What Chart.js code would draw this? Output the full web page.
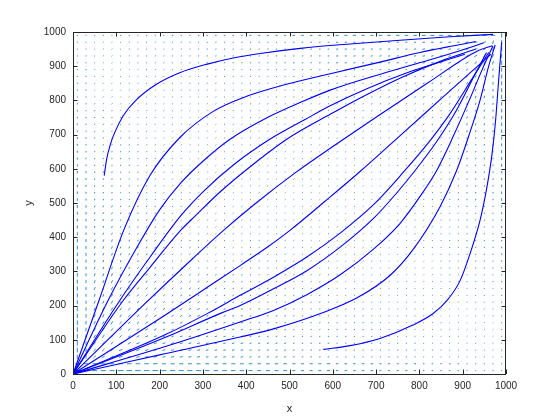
<!DOCTYPE html>
<html lang="en">
<head>
<meta charset="UTF-8">
<title>Streamlines</title>
<script src="https://cdn.jsdelivr.net/npm/chart.js"></script>
<style>
  body { margin: 0; background: #fff; }
  #chart { display: block; }
</style>
</head>
<body>
<canvas id="chart" width="560" height="420"></canvas>
<script>
// axis ticks
const xTicks = [0, 100, 200, 300, 400, 500, 600, 700, 800, 900, 1000];
const yTicks = [0, 100, 200, 300, 400, 500, 600, 700, 800, 900, 1000];

// streamlines, each listed from its lower-left end to its upper-right end
const lineA  = [[72,580],[78,630],[86,670],[96,705],[116,755],[145,800],[190,845],[245,880],[310,906],[370,924],[432,937],[525,952],[640,965],[755,976],[870,986],[970,993]];
const lineL1 = [[0,0],[60,215],[117,420],[178,581],[248,693],[324,768],[401,812],[478,842],[594,878],[709,912],[801,940],[880,960],[930,972]];
const lineL2 = [[0,0],[81,215],[152,380],[200,480],[250,560],[300,622],[361,685],[449,750],[527,795],[594,830],[700,873],[800,910],[880,940],[948,968]];
const lineL3 = [[0,0],[108,215],[178,342],[249,463],[302,535],[371,612],[459,690],[537,745],[595,785],[680,835],[770,880],[850,913],[905,935]];
const lineL4 = [[0,0],[116,215],[178,312],[248,419],[283,463],[342,535],[415,612],[498,690],[595,760],[680,818],[760,868],[860,920],[930,950]];
const lineL5 = [[0,0],[174,215],[260,318],[347,419],[420,497],[513,588],[600,665],[705,755],[818,850],[935,945],[968,960]];
const lineR5 = [[0,0],[215,174],[318,260],[386,317],[450,372],[501,420],[580,503],[663,592],[760,702],[860,816],[965,935]];
const lineR4 = [[0,0],[215,116],[312,178],[386,230],[463,283],[540,342],[617,412],[694,495],[763,590],[820,675],[870,760],[920,860],[960,940]];
const lineR3 = [[0,0],[215,108],[342,178],[386,200],[463,249],[540,302],[617,371],[694,455],[748,530],[790,595],[840,680],[885,770],[930,880],[955,940]];
const lineR2 = [[0,0],[215,81],[386,152],[463,186],[540,232],[617,290],[694,365],[755,440],[802,520],[840,595],[880,700],[915,800],[945,890],[970,960]];
const lineR1 = [[0,0],[100,28],[200,56],[386,108],[463,132],[578,180],[655,222],[732,288],[786,365],[848,490],[886,595],[915,700],[940,800],[960,900],[975,962]];
const lineB  = [[578,72],[640,83],[709,104],[785,143],[831,176],[864,215],[894,273],[917,352],[940,449],[956,547],[968,646],[976,742],[983,859],[990,970]];
const streamlines = [lineA, lineL1, lineL2, lineL3, lineL4, lineL5, lineR5, lineR4, lineR3, lineR2, lineR1, lineB];

// quiver grid
const quiverX = [10,30,50,70,90,110,130,150,170,190,210,230,250,270,290,310,330,350,370,390,410,430,450,470,490,510,530,550,570,590,610,630,650,670,690,710,730,750,770,790,810,830,850,870,890,910,930,950,970,990];
const quiverY = [10,30,50,70,90,110,130,150,170,190,210,230,250,270,290,310,330,350,370,390,410,430,450,470,490,510,530,550,570,590,610,630,650,670,690,710,730,750,770,790,810,830,850,870,890,910,930,950,970,990];

// arrow length (px) per 100x100 cell, rows from bottom to top
const cellLen = [
  [3.5, 3.5, 3, 2.5, 2, 1.5, 1.2, 1.2, 1, 1],
  [3.5, 3, 2.5, 2, 1.5, 1.2, 1.2, 1, 1, 1],
  [3, 2.5, 2, 1.5, 1.2, 1.2, 1, 1, 1, 1],
  [2.5, 2, 1.5, 1.2, 1.2, 1, 1, 1, 1, 1.2],
  [2, 1.5, 1.2, 1.2, 1, 1, 1, 1, 1, 1.2],
  [1.5, 1.2, 1.2, 1, 1, 1, 1, 1, 1.2, 1.5],
  [1.2, 1.2, 1, 1, 1, 1, 1, 1.2, 1.2, 1.5],
  [1.2, 1, 1, 1, 1, 1, 1.2, 1.2, 1.5, 2],
  [1, 1, 1, 1, 1, 1.2, 1.2, 1.5, 2, 2.5],
  [1, 1, 1, 1.2, 1.2, 1.5, 2, 2, 2.5, 3.5]
];
// edge rows / columns (px), per 100-wide cell
const bottomLen  = [5, 5.5, 5, 4.5, 4, 3, 2.5, 2, 1.5, 1];   // y = 10, pointing left
const bottomLen2 = [4, 4.5, 4, 4, 3.5, 3, 2.5, 2, 1.5, 1];   // y = 30
const leftLen    = [4.5, 4.5, 4, 3.5, 3, 2.5, 2, 1.5, 1.2, 1]; // x = 10, pointing down
const leftLen2   = [3.5, 3.5, 3, 3, 2.5, 2, 1.5, 1.2, 1.2, 1]; // x = 30
const topLen     = [1, 1, 1.2, 1.5, 2, 2.5, 3, 3.5, 4, 4.5];   // y = 990, pointing left
const rightLen   = [1, 1, 1.2, 1.5, 2, 2.5, 3, 3.5, 4, 4.5];   // x = 990, pointing down

function cellOf(v) { return Math.min(9, Math.floor(v / 100)); }

// direction of the nearest streamline, pointing toward its lower-left end
function nearestDir(px, py) {
  let best = Infinity, dir = [-1, -1];
  streamlines.forEach(line => {
    for (let i = 0; i < line.length - 1; i++) {
      const [ax, ay] = line[i], [bx, by] = line[i + 1];
      const vx = bx - ax, vy = by - ay;
      const t = Math.max(0, Math.min(1, ((px - ax) * vx + (py - ay) * vy) / (vx * vx + vy * vy)));
      const d = Math.hypot(ax + t * vx - px, ay + t * vy - py);
      if (d < best) { best = d; dir = [-vx, -vy]; }
    }
  });
  return dir;
}

const quiver = [];
quiverY.forEach(y => {
  quiverX.forEach(x => {
    let dir = nearestDir(x, y);
    let len = cellLen[cellOf(y)][cellOf(x)];
    if (y === 10) { dir = [-1, 0]; len = bottomLen[cellOf(x)]; }
    else if (y === 30) { dir = [-1, 0]; len = bottomLen2[cellOf(x)]; }
    else if (x === 10) { dir = [0, -1]; len = leftLen[cellOf(y)]; }
    else if (x === 30) { dir = [0, -1]; len = leftLen2[cellOf(y)]; }
    else if (x === 990) { dir = [0, -1]; len = rightLen[cellOf(y)]; }
    else if (y === 990) { dir = [-1, 0]; len = topLen[cellOf(x)]; }
    quiver.push({ x: x, y: y, dx: dir[0], dy: dir[1], len: len });
  });
});

Chart.defaults.font.family = '"Liberation Sans", Arial, Helvetica, sans-serif';
Chart.defaults.font.size = 10;
Chart.defaults.color = '#262626';

// MATLAB style box with inward ticks on all four sides
const boxPlugin = {
  id: 'box',
  afterDatasetsDraw(chart) {
    const { ctx, chartArea: a, scales } = chart;
    const tl = 4.5;
    ctx.save();
    ctx.strokeStyle = '#262626';
    ctx.lineWidth = 1;
    ctx.strokeRect(Math.round(a.left) + 0.5, Math.round(a.top) + 0.5,
      Math.round(a.right - a.left) - 1, Math.round(a.bottom - a.top));
    ctx.beginPath();
    xTicks.forEach(v => {
      const x = Math.round(scales.x.getPixelForValue(v)) + 0.5;
      ctx.moveTo(x, a.bottom); ctx.lineTo(x, a.bottom - tl);
      ctx.moveTo(x, a.top); ctx.lineTo(x, a.top + tl);
    });
    yTicks.forEach(v => {
      const y = Math.round(scales.y.getPixelForValue(v)) + 0.5;
      ctx.moveTo(a.left, y); ctx.lineTo(a.left + tl, y);
      ctx.moveTo(a.right, y); ctx.lineTo(a.right - tl, y);
    });
    ctx.stroke();
    ctx.restore();
  }
};

function arrowAngle(ctx) {
  const q = quiver[ctx.dataIndex];
  if (!q) return 0;
  const sx = ctx.chart.scales.x, sy = ctx.chart.scales.y;
  const kx = (sx.right - sx.left) / 1000, ky = (sy.bottom - sy.top) / 1000;
  return Math.atan2(-q.dy * ky, q.dx * kx) * 180 / Math.PI;
}

const lineSets = streamlines.map(line => ({
  type: 'line',
  data: line.map(p => ({ x: p[0], y: p[1] })),
  borderColor: '#0000FF',
  borderWidth: 1.1,
  pointRadius: 0,
  cubicInterpolationMode: 'monotone',
  fill: false,
  order: 1
}));

new Chart(document.getElementById('chart'), {
  type: 'scatter',
  data: {
    datasets: [
      ...lineSets,
      {
        data: quiver.map(q => ({ x: q.x, y: q.y })),
        pointStyle: 'line',
        pointRadius: ctx => { const q = quiver[ctx.dataIndex]; return q ? q.len / 2 : 1; },
        pointRotation: arrowAngle,
        pointBorderColor: 'rgba(0,114,189,0.8)',
        pointBorderWidth: 1,
        order: 10
      }
    ]
  },
  options: {
    responsive: false,
    animation: false,
    events: [],
    layout: { padding: { top: 32, right: 54, left: 0, bottom: 0 } },
    plugins: { legend: { display: false }, tooltip: { enabled: false } },
    scales: {
      x: {
        type: 'linear', min: 0, max: 1000,
        grid: { display: false, drawTicks: false },
        border: { display: false },
        afterBuildTicks: s => { s.ticks = xTicks.map(v => ({ value: v })); },
        ticks: { padding: 6, maxRotation: 0, autoSkip: false, callback: v => String(v) },
        title: { display: true, text: 'x', font: { size: 11 }, padding: { top: 0, bottom: 4.4 } },
        afterFit: s => { s.height = 46; }
      },
      y: {
        type: 'linear', min: 0, max: 1000,
        grid: { display: false, drawTicks: false },
        border: { display: false },
        afterBuildTicks: s => { s.ticks = yTicks.map(v => ({ value: v })); },
        ticks: { padding: 7, autoSkip: false, callback: v => String(v) },
        title: { display: true, text: 'y', font: { size: 11 }, padding: { top: 22.4, bottom: 0 } },
        afterFit: s => { s.width = 73; }
      }
    }
  },
  plugins: [boxPlugin]
});
</script>
</body>
</html>
